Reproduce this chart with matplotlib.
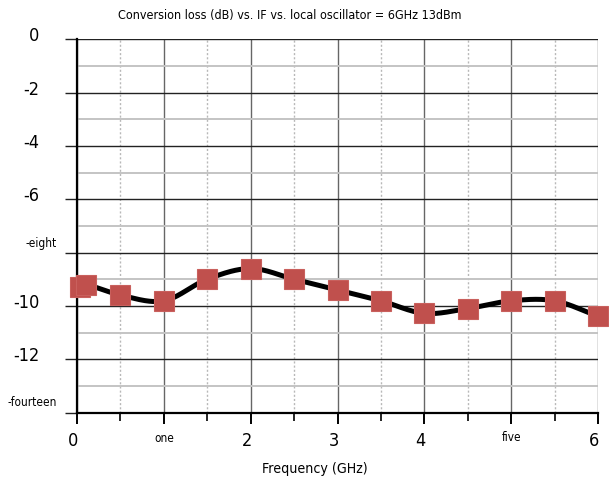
import numpy as np
import matplotlib
matplotlib.use("Agg")
import matplotlib.pyplot as plt
from matplotlib.transforms import ScaledTranslation

# data
freq = [0.03, 0.1, 0.5, 1.0, 1.5, 2.0, 2.5, 3.0, 3.5, 4.0, 4.5, 5.0, 5.5, 6.0]
loss = [-9.29, -9.2, -9.6, -9.81, -9.0, -8.6, -9.0, -9.41, -9.81, -10.28, -10.1, -9.81, -9.81, -10.39]

xticks = [0, 1, 2, 3, 4, 5, 6]
xticklabels = ["0", "one", "2", "3", "4", "five", "6"]
yticks = [0, -2, -4, -6, -8, -10, -12, -14]
yticklabels = ["0", "-2", "-4", "-6", "-eight", "-10", "-12", "-fourteen"]
word_labels = {"one", "five", "-eight", "-fourteen"}

title = "Conversion loss (dB) vs. IF vs. local oscillator = 6GHz 13dBm"
xlabel = "Frequency (GHz)"


def smooth(x, y, n=40):
    # cubic hermite (catmull-rom like) through the points
    x = np.asarray(x, float)
    y = np.asarray(y, float)
    m = np.zeros_like(y)
    m[1:-1] = (y[2:] - y[:-2]) / (x[2:] - x[:-2])
    m[0] = (y[1] - y[0]) / (x[1] - x[0])
    m[-1] = (y[-1] - y[-2]) / (x[-1] - x[-2])
    xs, ys = [], []
    for i in range(len(x) - 1):
        h = x[i + 1] - x[i]
        t = np.linspace(0, 1, n)
        h00 = 2 * t**3 - 3 * t**2 + 1
        h10 = t**3 - 2 * t**2 + t
        h01 = -2 * t**3 + 3 * t**2
        h11 = t**3 - t**2
        xs.append(x[i] + t * h)
        ys.append(h00 * y[i] + h10 * h * m[i] + h01 * y[i + 1] + h11 * h * m[i + 1])
    return np.concatenate(xs), np.concatenate(ys)


plt.rcParams["font.family"] = ["DejaVu Sans"]
plt.rcParams["font.stretch"] = "condensed"

fig = plt.figure(figsize=(6.09, 4.8), dpi=100)
ax = fig.add_axes([77 / 609, 1 - 412.5 / 480, 521 / 609, (412.5 - 39.3) / 480])

sx, sy = smooth(freq, loss)
ax.plot(sx, sy, color="black", lw=3.6, zorder=3, solid_capstyle="round")
ax.plot(freq, loss, ls="none", marker="s", ms=14.5, color="#c0504d",
        mec="#c9605d", mew=0.8, zorder=4, clip_on=False)

ax.set_xlim(0, 6)
ax.set_ylim(-14, 0)

ax.set_xticks(xticks)
ax.set_xticklabels(xticklabels)
ax.set_xticks(np.arange(0.5, 6, 1.0), minor=True)
ax.set_yticks(yticks)
ax.set_yticklabels(yticklabels)
ax.set_yticks(np.arange(-13, 0, 2), minor=True)

# grid
for v in xticks:
    ax.axvline(v, color="#666666", lw=1.0, zorder=1)
for v in np.arange(0.5, 6, 1.0):
    ax.axvline(v, color="#b8b8b8", lw=1.0, ls=(0, (1.5, 1.5)), zorder=1)
for v in yticks:
    ax.axhline(v, color="#222222", lw=1.0, zorder=1)
for v in np.arange(-13, 0, 2):
    ax.axhline(v, color="#c4c4c4", lw=1.4, zorder=1)

for s in ["top", "right"]:
    ax.spines[s].set_visible(False)
ax.spines["left"].set_linewidth(1.6)
ax.spines["bottom"].set_linewidth(1.6)
ax.spines["left"].set_zorder(2)

ax.tick_params(axis="y", which="major", length=9, width=1.0, color="#222222", pad=18)
ax.tick_params(axis="y", which="minor", length=0)
ax.tick_params(axis="x", which="major", length=8, width=1.4, pad=6)
ax.tick_params(axis="x", which="minor", length=6, width=1.2)

for lbl in ax.get_yticklabels():
    if lbl.get_text() in word_labels:
        lbl.set_fontsize(8.5)
        lbl.set_transform(lbl.get_transform() + ScaledTranslation(17 / 100, 11 / 100, fig.dpi_scale_trans))
    else:
        lbl.set_fontsize(13)
        lbl.set_transform(lbl.get_transform() + ScaledTranslation(0, 5 / 100, fig.dpi_scale_trans))

for lbl in ax.get_xticklabels():
    if lbl.get_text() in word_labels:
        lbl.set_fontsize(8.5)
        if lbl.get_text() == "five":
            lbl.set_transform(lbl.get_transform() + ScaledTranslation(0, 1 / 100, fig.dpi_scale_trans))
    else:
        lbl.set_fontsize(13)
        lbl.set_transform(lbl.get_transform() + ScaledTranslation(-4 / 100, 0, fig.dpi_scale_trans))

fig.text(290 / 609, 1 - 15 / 480, title, ha="center", va="center", fontsize=9)
fig.text(315 / 609, 1 - 469 / 480, xlabel, ha="center", va="center", fontsize=10.2)

fig.savefig("out.png", dpi=100)
